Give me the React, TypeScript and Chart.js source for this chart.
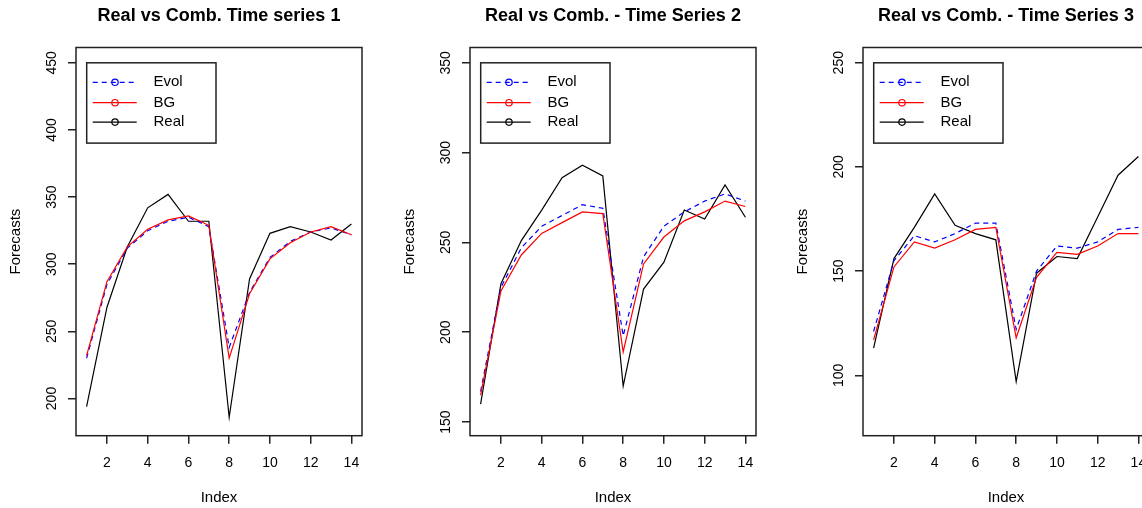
import React, { useEffect, useRef } from "react";
import { Chart, registerables } from "chart.js";

Chart.register(...registerables);

const FONT = "'Liberation Sans', Arial, sans-serif";

// ---- data ----
const indexValues = [1, 2, 3, 4, 5, 6, 7, 8, 9, 10, 11, 12, 13, 14];
const xTicks = [2, 4, 6, 8, 10, 12, 14];
const legendLabels = ["Evol", "BG", "Real"];

const titles = [
  "Real vs Comb. Time series 1",
  "Real vs Comb. - Time Series 2",
  "Real vs Comb. - Time Series 3",
];

const evol1 = [230, 285, 312, 325, 332, 335, 328, 238, 279, 305, 317, 324, 327, 322];
const bg1 = [232, 287, 313, 326, 333, 336, 329, 230, 278, 304, 316, 324, 328, 322];
const real1 = [194, 268, 313, 342, 352, 332, 332, 186, 289, 323, 328, 324, 318, 330];

const evol2 = [167, 225, 247, 259, 265, 271, 269, 198, 242, 259, 267, 273, 277, 273];
const bg2 = [165, 223, 243, 255, 261, 267, 266, 189, 238, 253, 262, 267, 273, 270];
const real2 = [160, 227, 251, 268, 286, 293, 287, 170, 224, 239, 268, 263, 282, 264];

const evol3 = [121, 155, 167, 164, 168, 173, 173, 122, 150, 162, 161, 164, 170, 171];
const bg3 = [117, 152, 164, 161, 165, 170, 171, 118, 147, 159, 158, 162, 168, 168];
const real3 = [113, 156, 171, 187, 172, 168, 165, 97, 149, 157, 156, 176, 196, 205];

const yTicks1 = [200, 250, 300, 350, 400, 450];
const yTicks2 = [150, 200, 250, 300, 350];
const yTicks3 = [100, 150, 200, 250];

const yRange1 = [172.3, 461.4];
const yRange2 = [142.4, 358.5];
const yRange3 = [71.0, 257.3];
const xRange = [0.48, 14.52];

// ---- plugins ----
const boxPlugin = {
  id: "rbox",
  afterDraw(chart: any) {
    const { ctx, chartArea } = chart;
    ctx.save();
    ctx.strokeStyle = "#222";
    ctx.lineWidth = 1.5;
    ctx.strokeRect(chartArea.left, chartArea.top, chartArea.right - chartArea.left, chartArea.bottom - chartArea.top);
    ctx.restore();
  },
};

const legendPlugin = {
  id: "rlegend",
  afterDraw(chart: any) {
    const { ctx, chartArea } = chart;
    const L = chartArea.left;
    const T = chartArea.top;
    ctx.save();
    ctx.strokeStyle = "#222";
    ctx.lineWidth = 1.5;
    ctx.strokeRect(L + 10.7, T + 15.3, 129.3, 80.3);
    const rows = [34.8, 55.2, 74.6];
    legendLabels.forEach((lab, i) => {
      const ds = chart.data.datasets.find((d: any) => d.label === lab);
      if (!ds) return;
      const y = T + rows[i];
      ctx.strokeStyle = ds.borderColor;
      ctx.lineWidth = ds.borderWidth;
      ctx.setLineDash(ds.borderDash || []);
      ctx.beginPath();
      ctx.moveTo(L + 16.7, y);
      ctx.lineTo(L + 60.7, y);
      ctx.stroke();
      ctx.setLineDash([]);
      ctx.beginPath();
      ctx.arc(L + 39, y, 3.2, 0, Math.PI * 2);
      ctx.stroke();
      ctx.fillStyle = "#000";
      ctx.font = `15px ${FONT}`;
      ctx.textAlign = "left";
      ctx.textBaseline = "middle";
      ctx.fillText(lab, L + 77.5, y);
    });
    ctx.restore();
  },
};

type PanelProps = {
  title: string;
  evol: number[];
  bg: number[];
  real: number[];
  yTicks: number[];
  yRange: number[];
  left: number;
};

function Panel({ title, evol, bg, real, yTicks, yRange, left }: PanelProps) {
  const ref = useRef<HTMLCanvasElement>(null);
  useEffect(() => {
    const canvas = ref.current!;
    const pts = (arr: number[]) => arr.map((y, i) => ({ x: indexValues[i], y }));
    const chart = new Chart(canvas, {
      type: "line",
      data: {
        datasets: [
          { label: "Evol", data: pts(evol), borderColor: "#0000ff", borderDash: [5, 4], borderWidth: 1.2, pointRadius: 0, fill: false, tension: 0, order: 2 },
          { label: "BG", data: pts(bg), borderColor: "#ff0000", borderWidth: 1.2, pointRadius: 0, fill: false, tension: 0, order: 1 },
          { label: "Real", data: pts(real), borderColor: "#000000", borderWidth: 1.2, pointRadius: 0, fill: false, tension: 0, order: 3 },
        ],
      },
      options: {
        animation: false,
        responsive: false,
        events: [],
        layout: { padding: { left: 0, right: 32, top: 0, bottom: 0 } },
        plugins: {
          legend: { display: false },
          tooltip: { enabled: false },
          title: {
            display: true,
            text: title,
            fullSize: false,
            color: "#000",
            font: { family: FONT, size: 18, weight: "bold" },
            padding: { top: 5.7, bottom: 20.2 },
          },
        },
        scales: {
          x: {
            type: "linear",
            min: xRange[0],
            max: xRange[1],
            afterBuildTicks: (s: any) => {
              s.ticks = xTicks.map((v) => ({ value: v }));
            },
            afterFit: (s: any) => {
              s.height = 72.3;
            },
            grid: { display: true, drawOnChartArea: false, drawTicks: true, tickLength: 8, color: "#222", lineWidth: 1.5 },
            border: { display: false },
            ticks: { autoSkip: false, minRotation: 0, maxRotation: 0, padding: 10.6, color: "#000", font: { family: FONT, size: 14 } },
            title: { display: true, text: "Index", color: "#000", font: { family: FONT, size: 15 }, padding: { top: 0, bottom: 1 } },
          },
          y: {
            type: "linear",
            min: yRange[0],
            max: yRange[1],
            afterBuildTicks: (s: any) => {
              s.ticks = yTicks.map((v) => ({ value: v }));
            },
            afterFit: (s: any) => {
              s.width = 76;
            },
            grid: { display: true, drawOnChartArea: false, drawTicks: true, tickLength: 8, color: "#222", lineWidth: 1.5 },
            border: { display: false },
            ticks: { autoSkip: false, minRotation: 90, maxRotation: 90, crossAlign: "center", padding: 4.6, color: "#000", font: { family: FONT, size: 14 } },
            title: { display: true, text: "Forecasts", color: "#000", font: { family: FONT, size: 15 }, padding: { top: 7.3, bottom: 0 } },
          },
        },
      } as any,
      plugins: [boxPlugin, legendPlugin],
    });
    return () => chart.destroy();
  }, []);
  return <canvas ref={ref} width={394} height={508} style={{ position: "absolute", left, top: 0, width: 394, height: 508 }} />;
}

export default function App() {
  useEffect(() => {
    document.body.style.margin = "0";
  }, []);
  return (
    <div style={{ position: "fixed", left: 0, top: 0, width: 1142, height: 508, overflow: "hidden", background: "#fff" }}>
      <Panel title={titles[0]} evol={evol1} bg={bg1} real={real1} yTicks={yTicks1} yRange={yRange1} left={0} />
      <Panel title={titles[1]} evol={evol2} bg={bg2} real={real2} yTicks={yTicks2} yRange={yRange2} left={394} />
      <Panel title={titles[2]} evol={evol3} bg={bg3} real={real3} yTicks={yTicks3} yRange={yRange3} left={787} />
    </div>
  );
}
